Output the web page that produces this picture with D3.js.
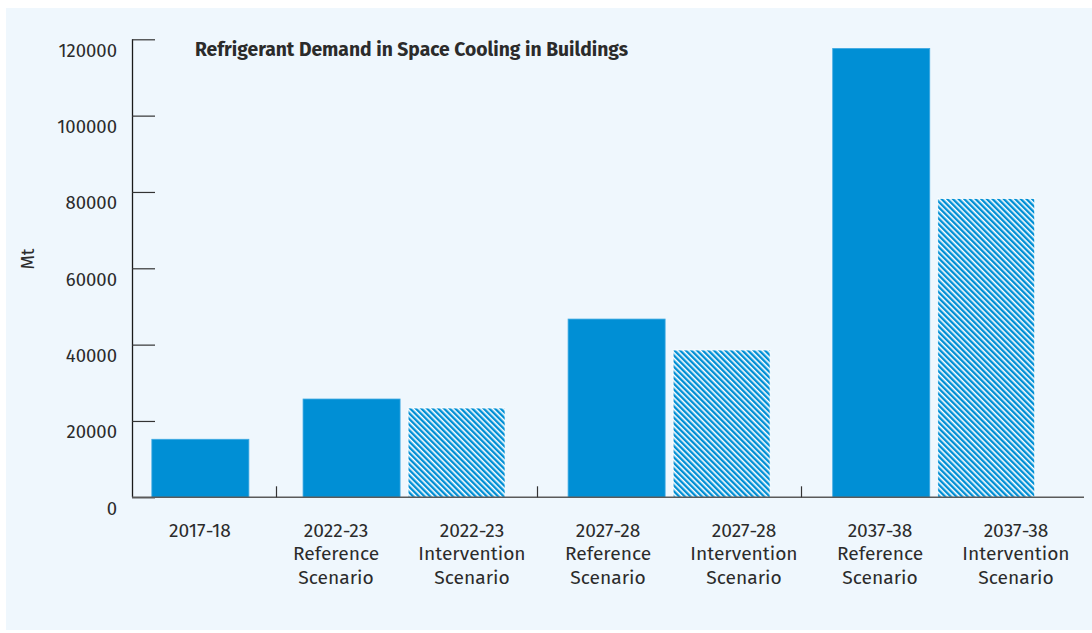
<!DOCTYPE html>
<html>
<head>
<meta charset="utf-8">
<script src="https://cdn.jsdelivr.net/npm/d3@7"></script>
<style>
  html, body { margin: 0; padding: 0; background: #ffffff; }
  svg { display: block; }
  text { font-family: "Fira Sans", "Noto Sans", "Open Sans", sans-serif; fill: #2b2b2b; }
</style>
</head>
<body>
<script>
// ---- data ----
const categories = [
  "2017-18",
  "2022-23 Reference Scenario",
  "2022-23 Intervention Scenario",
  "2027-28 Reference Scenario",
  "2027-28 Intervention Scenario",
  "2037-38 Reference Scenario",
  "2037-38 Intervention Scenario"
];
const labelLines = [
  ["2017-18"],
  ["2022-23", "Reference", "Scenario"],
  ["2022-23", "Intervention", "Scenario"],
  ["2027-28", "Reference", "Scenario"],
  ["2027-28", "Intervention", "Scenario"],
  ["2037-38", "Reference", "Scenario"],
  ["2037-38", "Intervention", "Scenario"]
];
const groupIndex = [0, 1, 1, 2, 2, 3, 3];
const values = [15200, 25750, 23400, 46700, 38600, 117600, 78300];
const scenario = ["base", "reference", "intervention", "reference", "intervention", "reference", "intervention"];
const yTicks = [0, 20000, 40000, 60000, 80000, 100000, 120000];
const title = "Refrigerant Demand in Space Cooling in Buildings";
const yLabel = "Mt";

// ---- layout ----
const W = 1092, H = 633;
const groupGaps = [0.44, 0.524, 0.52]; // extra spacing (in bar steps) between groups
const barFrac = 0.924;

const svg = d3.select("body").append("svg").attr("width", W).attr("height", H);

const defs = svg.append("defs");
const pat = defs.append("pattern")
  .attr("id", "hatch")
  .attr("patternUnits", "userSpaceOnUse")
  .attr("width", 4).attr("height", 4)
  .attr("patternTransform", "rotate(-45)");
pat.append("rect").attr("width", 4).attr("height", 4).attr("fill", "#ffffff");
pat.append("rect").attr("width", 2.4).attr("height", 4).attr("fill", "#008fd5");

// background panel
svg.append("rect").attr("x", 6).attr("y", 8).attr("width", W - 6).attr("height", 622).attr("fill", "#eff7fd");

// unit positions for each bar
const cumGap = [0];
groupGaps.forEach((g, i) => cumGap.push(cumGap[i] + g));
const units = categories.map((c, i) => i + cumGap[groupIndex[i]]);

const x = d3.scaleLinear().domain([-0.651, 8.415]).range([132, 1084]);
const xLab = d3.scaleBand().domain(categories).range([132, 1084]);
const y = d3.scaleLinear().domain([0, 120000]).range([497.3, 39.3]);
const bw = x(barFrac) - x(0);

// bars
svg.append("g").selectAll("rect")
  .data(values)
  .join("rect")
  .attr("x", (d, i) => x(units[i]) - bw / 2)
  .attr("width", bw)
  .attr("y", d => y(d))
  .attr("height", d => y(0) - y(d))
  .attr("fill", (d, i) => scenario[i] === "intervention" ? "url(#hatch)" : "#008fd5")
  .attr("stroke", (d, i) => scenario[i] === "intervention" ? "#ffffff" : "#3ea9e2")
  .attr("stroke-width", 0.8);

// y axis
const yAxis = d3.axisRight(y).tickValues(yTicks).tickSize(23).tickFormat("");
const gy = svg.append("g").attr("transform", "translate(132,0)").call(yAxis);
gy.select(".domain").attr("stroke", "#1a1a1a").attr("stroke-width", 1.3).attr("d", `M0.5,${y(120000)}V${y(0)}`);
gy.selectAll(".tick line").attr("stroke", "#333").attr("stroke-width", 1.2);

svg.append("g").selectAll("text")
  .data(yTicks)
  .join("text")
  .attr("x", 117)
  .attr("y", d => y(d) + 11)
  .attr("dy", "0.35em")
  .attr("text-anchor", "end")
  .attr("font-size", 18.5)
  .text(d => d);

// x axis baseline
svg.append("line")
  .attr("x1", 132).attr("x2", 1084)
  .attr("y1", y(0)).attr("y2", y(0))
  .attr("stroke", "#5a5a5a").attr("stroke-width", 1.5);

// group separator ticks
const sepUnits = [];
for (let i = 1; i < categories.length; i++) {
  if (groupIndex[i] !== groupIndex[i - 1]) sepUnits.push((units[i] + units[i - 1]) / 2);
}
svg.append("g").selectAll("line")
  .data(sepUnits)
  .join("line")
  .attr("x1", d => Math.round(x(d)) + 0.5).attr("x2", d => Math.round(x(d)) + 0.5)
  .attr("y1", y(0)).attr("y2", y(0) - 11)
  .attr("stroke", "#333").attr("stroke-width", 1.2);

// category labels (evenly spaced bands)
const lab = svg.append("g").selectAll("text")
  .data(labelLines)
  .join("text")
  .attr("text-anchor", "middle")
  .attr("font-size", 19.2);
lab.each(function(lines, i) {
  const t = d3.select(this);
  const cx = xLab(categories[i]) + xLab.bandwidth() / 2;
  lines.forEach((ln, k) => {
    t.append("tspan")
      .attr("x", cx)
      .attr("y", 537 + k * 23.3)
      .text(ln);
  });
});

// title
svg.append("text")
  .attr("x", 195).attr("y", 55.5)
  .attr("font-size", 19.3)
  .attr("font-weight", "bold")
  .text(title);

// y label
svg.append("text")
  .attr("transform", `translate(34,259) rotate(-90)`)
  .attr("text-anchor", "middle")
  .attr("font-size", 18.5)
  .text(yLabel);
</script>
</body>
</html>
